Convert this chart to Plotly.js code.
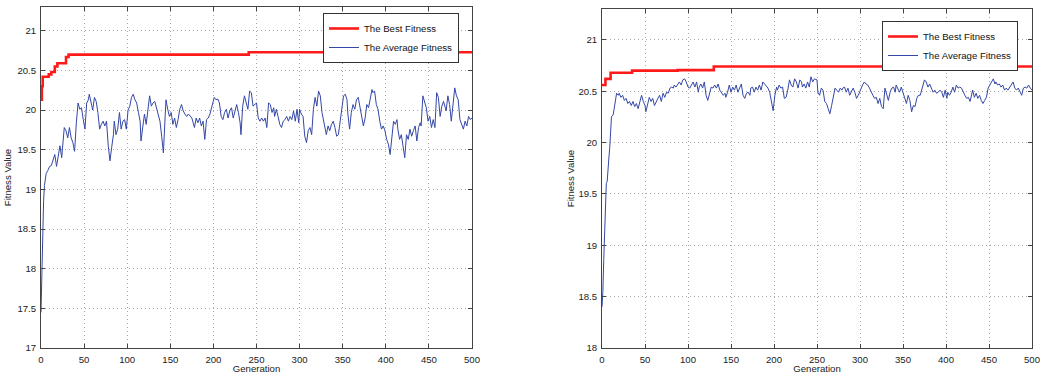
<!DOCTYPE html>
<html>
<head>
<meta charset="utf-8">
<script src="https://cdn.plot.ly/plotly-3.0.1.min.js"></script>
<style>html,body{margin:0;padding:0;background:#fff;}#chart{width:1045px;height:374px;}</style>
</head>
<body>
<div id="chart"></div>
<script>
// ---- Left chart data ----
const leftBestGen = [0, 1, 2, 9, 12, 16, 19, 29, 32, 241, 500];
const leftBestVal = [20.13, 20.30, 20.42, 20.45, 20.48, 20.55, 20.59, 20.67, 20.70, 20.73, 20.73];

const leftAvgGen = [0,1,2,3,4,6,8,10,12,14,16,18,20,22,24,27,29,31,33,35,37,39,41,43,45,47,49,51,53,55,56,58,60,62,64,66,68,70,72,74,76,78,80,82,84,85,87,89,91,93,95,97,99,101,103,105,107,109,111,113,115,116,118,120,122,124,126,128,130,132,134,136,138,140,142,144,145,147,149,151,153,155,157,159,161,163,165,167,169,171,173,175,176,178,180,182,184,186,188,190,192,194,196,198,200,201,203,205,207,209,211,213,215,217,219,221,223,225,227,229,231,232,234,236,238,240,242,244,246,248,250,252,254,256,258,260,262,264,266,268,270,271,273,275,277,279,281,283,285,287,289,291,293,295,297,299,300,302,304,306,308,310,312,314,316,318,320,322,324,326,327,329,331,333,335,337,339,341,343,345,347,349,351,353,355,356,358,360,362,364,366,368,370,372,374,376,378,380,382,384,385,387,389,391,393,395,397,399,401,403,405,407,409,411,413,414,416,418,420,422,424,426,428,430,432,434,436,438,440,441,443,445,447,449,451,453,455,457,459,461,463,465,467,469,470,472,474,476,478,480,482,484,486,488,490,492,494,496,498,500];
const leftAvgVal = [17.45,18.0,18.5,18.85,19.05,19.2,19.24,19.29,19.3,19.36,19.44,19.29,19.42,19.55,19.40,19.78,19.74,19.65,19.78,19.65,19.59,19.48,19.84,20.09,20.01,20.03,19.88,19.76,20.09,20.13,20.2,20.09,20.0,20.16,20.11,19.97,19.76,19.82,19.86,19.8,19.86,19.55,19.36,19.53,19.69,19.86,19.69,19.76,19.97,19.76,19.86,19.88,19.76,20.0,20.05,20.16,20.2,20.13,20.09,19.97,19.86,19.61,19.82,19.95,19.82,20.05,20.18,20.05,20.09,20.11,20.03,19.92,19.86,19.67,19.46,19.92,20.13,20.01,19.92,19.97,19.82,19.9,19.78,19.88,20.01,20.07,19.99,19.95,19.92,19.95,19.92,19.9,19.86,19.78,19.9,19.84,19.9,19.8,19.86,19.63,19.88,19.9,19.95,20.05,20.13,20.16,20.13,20.14,20.09,19.92,19.88,19.97,20.01,19.9,19.99,20.03,19.9,19.97,20.07,19.97,19.84,19.69,20.05,20.18,20.11,20.01,20.24,20.22,20.05,20.07,20.09,19.9,19.86,19.9,19.86,19.9,19.78,20.09,20.07,19.97,20.03,19.92,20.01,19.92,19.82,19.78,19.86,19.88,19.92,19.86,19.92,19.88,19.99,19.86,20.01,19.84,20.01,19.95,19.92,19.67,19.59,19.74,19.78,19.69,20.01,20.16,20.05,20.24,20.18,19.97,19.92,19.8,19.69,19.8,19.74,19.82,19.86,19.78,19.67,19.69,19.88,20.03,20.18,20.2,20.13,19.95,19.76,19.97,20.07,20.01,20.13,20.16,20.05,19.9,19.8,19.9,20.07,20.03,20.13,20.26,20.22,20.24,20.07,20.01,19.86,19.76,19.8,19.74,19.63,19.57,19.44,19.63,19.86,19.82,19.88,19.76,19.63,19.69,19.55,19.40,19.69,19.63,19.76,19.67,19.74,19.8,19.61,19.78,19.84,19.8,20.18,20.09,20.03,19.86,19.92,19.78,19.88,19.78,20.22,20.16,19.92,20.05,20.11,20.03,19.99,20.18,20.07,19.86,20.07,20.28,20.18,20.13,19.88,19.82,19.76,19.86,19.8,19.92,19.88,19.9];

// ---- Right chart data ----
const rightBestGen = [0, 4, 10, 35, 88, 130, 500];
const rightBestVal = [20.56, 20.62, 20.68, 20.70, 20.705, 20.74, 20.74];

const rightAvgGen = [0,1,2,3,4,5,6,7,8,9,10,11,13,15,17,19,20,22,24,26,28,30,32,34,36,38,40,42,44,46,48,50,51,53,55,57,59,61,63,65,67,69,71,73,75,77,79,81,83,84,86,88,90,92,94,96,98,100,102,104,106,108,110,112,113,115,117,119,121,123,125,127,129,131,133,135,137,139,141,143,144,146,148,150,152,154,156,158,160,162,164,166,168,170,172,173,175,177,179,181,183,185,187,189,191,193,195,197,199,201,203,204,206,208,210,212,214,216,218,220,222,224,226,228,230,232,233,235,237,239,241,243,245,247,250,251,253,255,257,259,261,263,265,267,269,271,273,275,277,279,280,282,284,286,288,290,292,294,296,298,300,302,303,305,307,309,311,313,315,317,319,321,323,325,327,329,331,333,335,337,339,341,342,344,346,348,350,352,354,356,358,360,362,364,366,368,370,371,373,375,377,379,381,383,385,387,389,391,393,395,397,399,401,402,404,406,408,410,412,414,416,418,420,422,424,426,428,430,431,433,435,437,439,441,443,445,447,449,451,453,455,457,458,460,462,464,466,468,470,472,474,476,478,480,482,484,486,488,490,492,494,496,498,500];
const rightAvgVal = [18.40,18.55,18.85,19.2,19.55,19.6,19.62,19.7,19.85,19.95,20.1,20.25,20.27,20.36,20.48,20.46,20.48,20.44,20.46,20.41,20.43,20.38,20.40,20.36,20.40,20.35,20.38,20.33,20.41,20.46,20.40,20.36,20.30,20.38,20.44,20.40,20.43,20.36,20.40,20.43,20.46,20.40,20.48,20.44,20.49,20.48,20.53,20.54,20.53,20.56,20.54,20.57,20.59,20.56,20.61,20.62,20.59,20.54,20.53,20.56,20.59,20.54,20.59,20.49,20.54,20.57,20.53,20.59,20.46,20.41,20.49,20.54,20.53,20.56,20.53,20.57,20.51,20.49,20.46,20.48,20.44,20.49,20.56,20.49,20.54,20.51,20.56,20.49,20.53,20.57,20.46,20.43,20.48,20.49,20.46,20.53,20.54,20.49,20.54,20.51,20.56,20.51,20.59,20.57,20.56,20.53,20.49,20.40,20.31,20.46,20.54,20.51,20.56,20.53,20.54,20.43,20.44,20.51,20.61,20.56,20.54,20.62,20.59,20.53,20.61,20.59,20.54,20.57,20.53,20.59,20.54,20.64,20.59,20.62,20.61,20.49,20.46,20.53,20.51,20.40,20.38,20.33,20.28,20.36,20.46,20.53,20.51,20.49,20.53,20.51,20.53,20.54,20.49,20.53,20.46,20.49,20.53,20.49,20.43,20.46,20.51,20.54,20.56,20.59,20.57,20.56,20.53,20.49,20.46,20.43,20.44,20.38,20.43,20.35,20.33,20.53,20.46,20.41,20.49,20.53,20.54,20.49,20.56,20.53,20.49,20.54,20.48,20.43,20.38,20.46,20.41,20.30,20.36,20.35,20.43,20.46,20.46,20.49,20.56,20.61,20.59,20.54,20.57,20.53,20.49,20.51,20.48,20.49,20.51,20.49,20.44,20.51,20.43,20.49,20.46,20.49,20.54,20.49,20.56,20.53,20.54,20.53,20.49,20.46,20.43,20.44,20.40,20.48,20.51,20.44,20.48,20.43,20.46,20.41,20.38,20.41,20.44,20.53,20.56,20.59,20.62,20.57,20.59,20.56,20.57,20.54,20.56,20.51,20.53,20.51,20.54,20.57,20.59,20.53,20.51,20.53,20.49,20.46,20.53,20.54,20.53,20.56,20.53,20.51];

const seriesNames = ['The Best Fitness', 'The Average Fitness'];
const xTitle = 'Generation';
const yTitle = 'Fitness Value';

const RED = '#ff1a1a';
const BLUE = '#3447a6';
const FONT = 'Liberation Sans, Arial, Helvetica, sans-serif';
const FS = 9.6;

const traces = [
  {x: leftBestGen, y: leftBestVal, name: seriesNames[0], mode: 'lines', line: {color: RED, width: 2.6, shape: 'hv'}, xaxis: 'x', yaxis: 'y', legend: 'legend'},
  {x: leftAvgGen, y: leftAvgVal, name: seriesNames[1], mode: 'lines', line: {color: BLUE, width: 1}, xaxis: 'x', yaxis: 'y', legend: 'legend'},
  {x: rightBestGen, y: rightBestVal, name: seriesNames[0], mode: 'lines', line: {color: RED, width: 2.6, shape: 'hv'}, xaxis: 'x2', yaxis: 'y2', legend: 'legend2'},
  {x: rightAvgGen, y: rightAvgVal, name: seriesNames[1], mode: 'lines', line: {color: BLUE, width: 1}, xaxis: 'x2', yaxis: 'y2', legend: 'legend2'}
];

function xAx(domain, anchor) {
  return {
    domain: domain, anchor: anchor, range: [0, 500], dtick: 50, tick0: 0,
    showline: true, linecolor: '#444', linewidth: 1, mirror: 'ticks',
    ticks: 'inside', ticklen: 4, tickcolor: '#444',
    showgrid: true, gridcolor: '#a8a8a8', griddash: '1px,3px', gridwidth: 1,
    zeroline: false, tickfont: {size: FS, color: '#222', family: FONT},
    ticklabelstandoff: 2,
    title: {text: xTitle, font: {size: FS, color: '#222', family: FONT}, standoff: 2}
  };
}
function yAx(domain, anchor, range, standoff) {
  return {
    domain: domain, anchor: anchor, range: range, dtick: 0.5, tick0: 17,
    showline: true, linecolor: '#444', linewidth: 1, mirror: 'ticks',
    ticks: 'inside', ticklen: 4, tickcolor: '#444',
    showgrid: true, gridcolor: '#a8a8a8', griddash: '1px,3px', gridwidth: 1,
    zeroline: false, tickfont: {size: FS, color: '#222', family: FONT},
    ticklabelstandoff: 2,
    title: {text: yTitle, font: {size: FS, color: '#222', family: FONT}, standoff: standoff}
  };
}

const H = 374, W = 1045;
const layout = {
  width: W, height: H,
  margin: {l: 0, r: 0, t: 0, b: 0},
  paper_bgcolor: '#fff', plot_bgcolor: '#fff',
  font: {family: FONT, size: FS, color: '#222'},
  showlegend: true,
  xaxis: xAx([41 / W, 472 / W], 'y'),
  yaxis: yAx([(H - 348) / H, (H - 7) / H], 'x', [17, 21.3], 4),
  xaxis2: xAx([602 / W, 1032 / W], 'y2'),
  yaxis2: yAx([(H - 348) / H, (H - 9) / H], 'x2', [18, 21.3], 2),
  legend: {x: 459 / W, xanchor: 'right', y: (H - 13) / H, yanchor: 'top',
    bgcolor: '#fff', bordercolor: '#333', borderwidth: 1,
    font: {size: FS, family: FONT, color: '#111'}, tracegroupgap: 0, traceorder: 'normal'},
  legend2: {x: 1018 / W, xanchor: 'right', y: (H - 21) / H, yanchor: 'top',
    bgcolor: '#fff', bordercolor: '#333', borderwidth: 1,
    font: {size: FS, family: FONT, color: '#111'}, tracegroupgap: 0, traceorder: 'normal'}
};

Plotly.newPlot('chart', traces, layout, {displayModeBar: false, staticPlot: true});
</script>
</body>
</html>
